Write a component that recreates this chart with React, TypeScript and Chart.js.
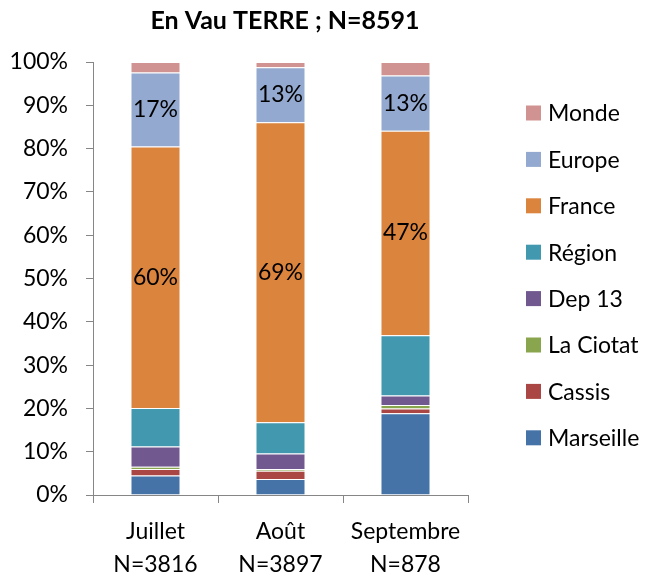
import React, { useEffect, useRef } from 'react';
import { Chart, registerables } from 'chart.js';

Chart.register(...registerables);

const chartTitle = 'En Vau TERRE ; N=8591';
const categories: string[][] = [
  ['Juillet', 'N=3816'],
  ['Août', 'N=3897'],
  ['Septembre', 'N=878'],
];
const seriesNames = ['Marseille', 'Cassis', 'La Ciotat', 'Dep 13', 'Région', 'France', 'Europe', 'Monde'];
const marseille = [4.5, 3.7, 18.9];
const cassis = [1.5, 1.9, 1.1];
const laCiotat = [0.5, 0.4, 0.8];
const dep13 = [4.7, 3.6, 2.2];
const region = [8.9, 7.2, 13.9];
const france = [60.4, 69.3, 47.2];
const europe = [17.1, 12.7, 12.8];
const monde = [2.4, 1.2, 3.1];
const seriesValues = [marseille, cassis, laCiotat, dep13, region, france, europe, monde];
const seriesColors = ['#4572A7', '#AA4643', '#89A54E', '#71588F', '#4198AF', '#DB843D', '#93A9CF', '#D19392'];
const labelledSeries = ['France', 'Europe'];
const yMin = 0;
const yMax = 100;
const yStep = 10;

const FONT = 'Lato, "Liberation Sans", sans-serif';

const overlayPlugin = {
  id: 'overlay',
  afterDatasetsDraw(chart: any) {
    const ctx = chart.ctx;
    ctx.save();
    // data labels
    ctx.font = `23px ${FONT}`;
    ctx.fillStyle = '#000';
    ctx.textAlign = 'center';
    ctx.textBaseline = 'middle';
    chart.data.datasets.forEach((ds: any, di: number) => {
      if (!labelledSeries.includes(ds.label)) return;
      const meta = chart.getDatasetMeta(di);
      meta.data.forEach((el: any, i: number) => {
        const { x, y, base } = el.getProps(['x', 'y', 'base'], true);
        ctx.fillText(Math.round(ds.data[i]) + '%', x, (y + base) / 2);
      });
    });
    ctx.restore();
  },
  afterDraw(chart: any) {
    const ctx = chart.ctx;
    ctx.save();
    // title
    ctx.font = `bold 25px ${FONT}`;
    ctx.fillStyle = '#000';
    ctx.textAlign = 'center';
    ctx.textBaseline = 'middle';
    ctx.fillText(chartTitle, 285, 21);
    // legend (reversed order)
    ctx.font = `23px ${FONT}`;
    ctx.textAlign = 'left';
    const n = chart.data.datasets.length;
    for (let k = 0; k < n; k++) {
      const ds = chart.data.datasets[n - 1 - k];
      const cy = 113 + k * 46.4;
      ctx.fillStyle = ds.backgroundColor;
      ctx.fillRect(526, cy - 7.5, 15, 15);
      ctx.fillStyle = '#000';
      ctx.fillText(ds.label, 548, cy + 1);
    }
    ctx.restore();
  },
};

export default function App() {
  const ref = useRef<HTMLCanvasElement>(null);
  useEffect(() => {
    if (!ref.current) return;
    const chart = new Chart(ref.current, {
      type: 'bar',
      data: {
        labels: categories,
        datasets: seriesNames.map((name, i) => ({
          label: name,
          data: seriesValues[i],
          backgroundColor: seriesColors[i],
          borderColor: 'rgba(255,255,255,0.35)',
          borderWidth: 1,
          barPercentage: 0.4,
          categoryPercentage: 1.0,
        })),
      },
      options: {
        animation: false,
        responsive: false,
        devicePixelRatio: 1,
        layout: { padding: { top: 62, right: 181, left: 0, bottom: 0 } },
        plugins: {
          legend: { display: false },
          title: { display: false },
          tooltip: { enabled: false },
        },
        scales: {
          x: {
            stacked: true,
            grid: {
              display: true,
              drawOnChartArea: false,
              drawTicks: true,
              tickLength: 8,
              color: '#868686',
              offset: true,
            },
            border: { display: true, color: '#868686', width: 1 },
            ticks: {
              color: '#000',
              padding: 12,
              maxRotation: 0,
              font: { family: FONT, size: 23, lineHeight: 1.43 },
            },
            afterFit(scale: any) {
              scale.height = 82;
            },
          },
          y: {
            stacked: true,
            min: yMin,
            max: yMax,
            grid: {
              display: true,
              drawOnChartArea: false,
              drawTicks: true,
              tickLength: 7,
              color: '#868686',
            },
            border: { display: true, color: '#868686', width: 1 },
            ticks: {
              stepSize: yStep,
              color: '#000',
              padding: 18,
              font: { family: FONT, size: 23 },
              callback: (v: any) => v + '%',
            },
            afterFit(scale: any) {
              scale.width = 93;
            },
          },
        },
      },
      plugins: [overlayPlugin],
    });
    return () => chart.destroy();
  }, []);
  return (
    <div style={{ position: 'absolute', left: 0, top: 0, width: 649, height: 577, background: '#fff' }}>
      <canvas ref={ref} width={649} height={577} />
    </div>
  );
}
